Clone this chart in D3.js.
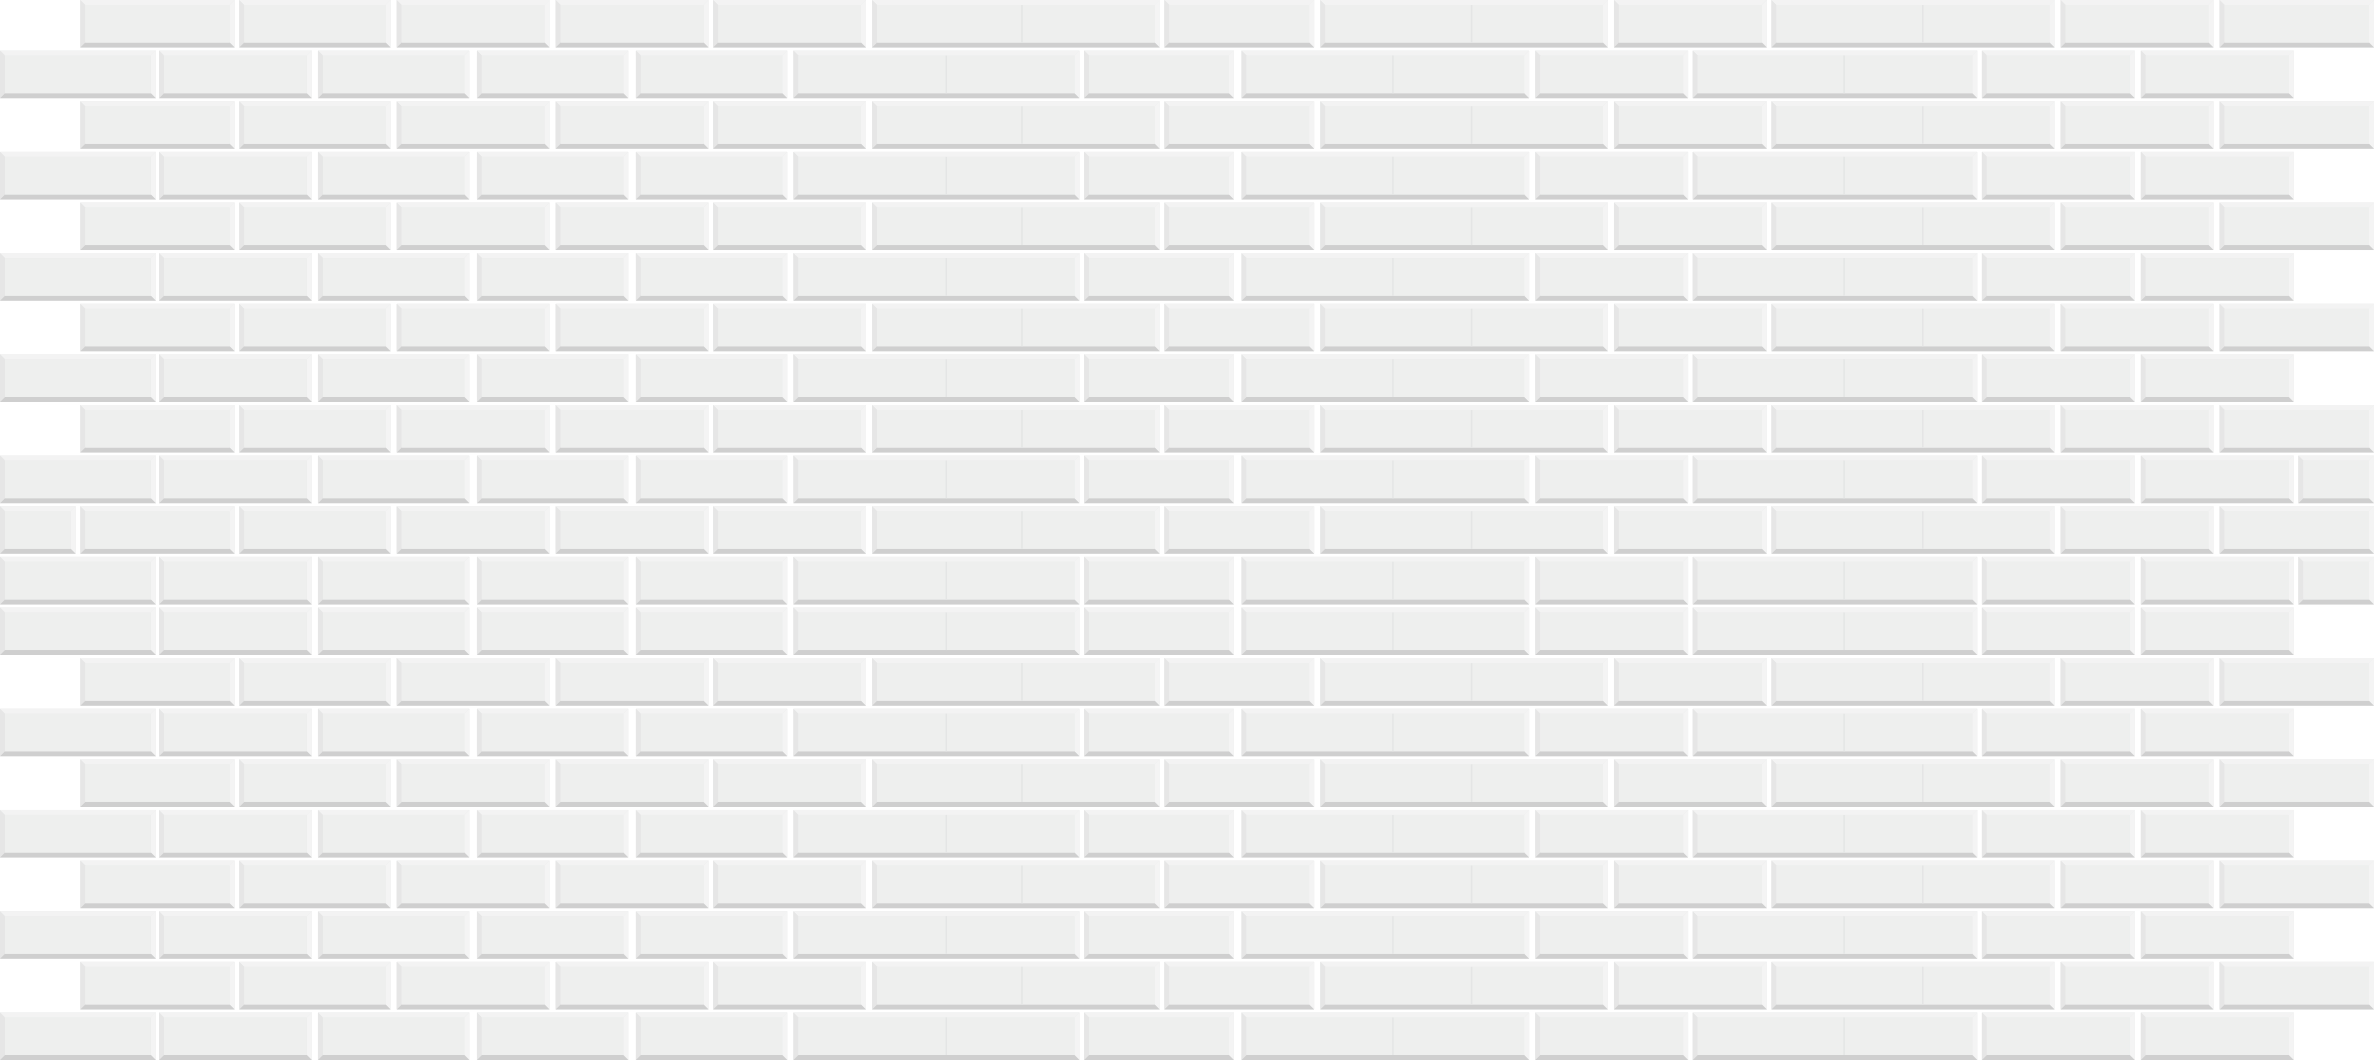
<!DOCTYPE html><html><head><meta charset="utf-8">
<script src="https://cdn.jsdelivr.net/npm/d3@7"></script>
<style>html,body{margin:0;background:#fff}</style></head><body><svg id="c" width="2374" height="1060"></svg>
<script>
// brick edges per row pattern (pattern units)
const rowA = [[53,155],[158,258],[262,363],[367,468],[471,572],[576,766],[769,868],[872,1062],[1066,1167],[1170,1357],[1361,1462],[1466,1568]];
const rowB = [[0,103],[105,206],[210,310],[315,415],[420,520],[524,713],[716,815],[820,1010],[1014,1115],[1118,1306],[1309,1410],[1414,1515]];
const seamsA = [675,972,1270];
const seamsB = [625,920,1218];
const rowBFull = rowB.concat([[1518,1568]]);
const rowAFull = [[0,50]].concat(rowA);
const rowPattern = ["A","B","A","B","A","B","A","B","A","BF","AF","BF","B","A","B","A","B","A","B","A","B"];
const patterns = {A: rowA, B: rowB, BF: rowBFull, AF: rowAFull};
const seamSet = {A: seamsA, AF: seamsA, B: seamsB, BF: seamsB};

const svg = d3.select("#c");
const x = d3.scaleLinear().domain([0,1568]).range([0,2374]);
const y = d3.scaleBand().domain(d3.range(rowPattern.length)).range([0,1060]).paddingInner(0.06);

const bricks = [];
rowPattern.forEach((p,i)=>patterns[p].forEach(b=>bricks.push({r:i,x0:b[0],x1:b[1]})));

const g = svg.selectAll("g.b").data(bricks).join("g").attr("class","b").attr("transform",d=>`translate(${x(d.x0)},${y(d.r)})`);
const h = y.bandwidth(), bv=5;
g.each(function(d){
  const w = x(d.x1)-x(d.x0), s=d3.select(this);
  s.append("rect").attr("width",w).attr("height",h).attr("fill","#ebecec");
  s.append("path").attr("d",`M0,0H${w}L${w-bv},${bv}H${bv}Z`).attr("fill","#f3f3f3");
  s.append("path").attr("d",`M0,0L${bv},${bv}V${h-bv}L0,${h}Z`).attr("fill","#e6e6e6");
  s.append("path").attr("d",`M${w},0L${w-bv},${bv}V${h-bv}L${w},${h}Z`).attr("fill","#f4f4f4");
  s.append("path").attr("d",`M0,${h}L${bv},${h-bv}H${w-bv}L${w},${h}Z`).attr("fill","#cfcfcf");
  s.append("rect").attr("x",bv).attr("y",bv).attr("width",w-2*bv).attr("height",h-2*bv).attr("fill","#eeefee");
});
// faint seams inside the long bricks
const seams = [];
rowPattern.forEach((p,i)=>seamSet[p].forEach(sx=>seams.push({r:i,sx})));
svg.selectAll("line.s").data(seams).join("line").attr("class","s")
  .attr("x1",d=>x(d.sx)).attr("x2",d=>x(d.sx))
  .attr("y1",d=>y(d.r)+bv).attr("y2",d=>y(d.r)+h-bv)
  .attr("stroke","#e4e5e5").attr("stroke-width",1.5);
</script></body></html>
